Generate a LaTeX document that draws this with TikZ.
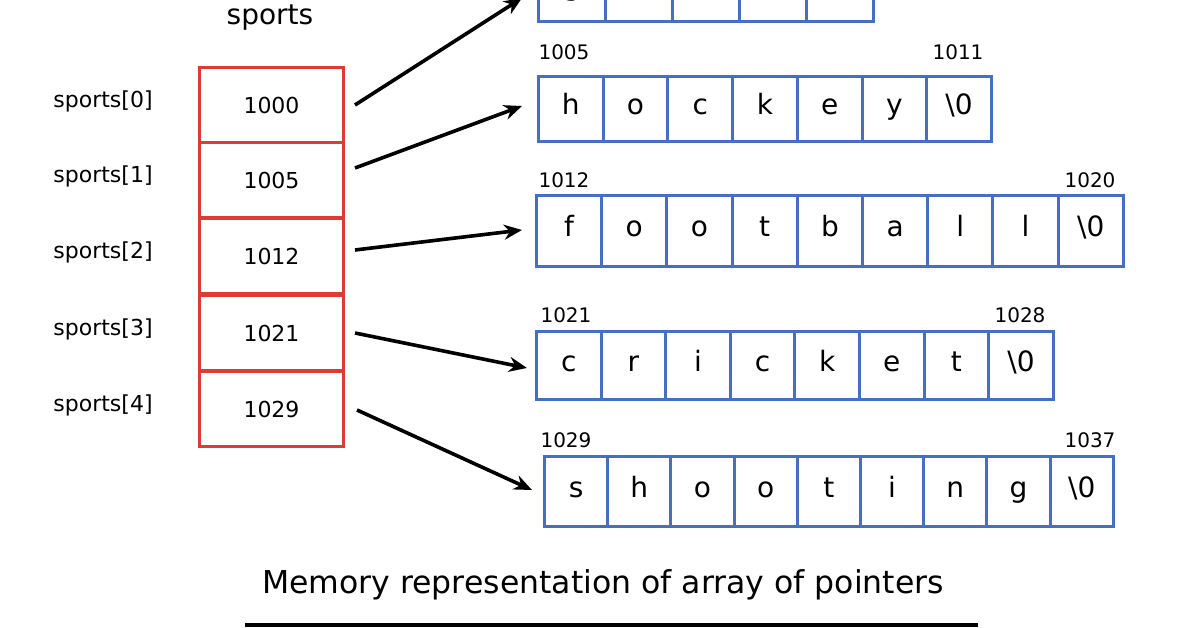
\documentclass[tikz,border=0pt]{standalone}
\usepackage{fontspec}
\setmainfont{DejaVu Sans}
\usetikzlibrary{arrows.meta}
\definecolor{ptrred}{RGB}{220,60,50}
\definecolor{cellblue}{RGB}{70,110,195}
\tikzset{
  ptrcell/.style={draw=ptrred,line width=3pt},
  chcell/.style={draw=cellblue,line width=3pt},
  addr/.style={font=\fontsize{20}{20}\selectfont},
  ptrarrow/.style={-{Stealth[length=18pt,width=15pt]},line width=3.6pt}
}
% #1 name, #2 left x, #3 top y, #4 cell width, #5 height, #6 letters
\newcommand{\strrow}[6]{%
  \foreach \ch [count=\i] in {#6} {
    \node[chcell,minimum width=#4,minimum height=#5,anchor=north west,inner sep=0pt,
      text height=16pt,text depth=4pt,font=\fontsize{28}{28}\selectfont] (#1\i) at ({#2+(\i-1)*#4},#3) {\ch};
  }%
}
\begin{document}
\begin{tikzpicture}[x=1pt,y=-1pt]
\useasboundingbox[fill=white] (0,0) rectangle (1196,628);
\begin{scope}
\clip (0,0) rectangle (1196,628);
% strings
\strrow{golf}{537}{-44}{67}{64}{g,o,l,f,\textbackslash0}
\strrow{hoc}{537}{75}{64.7}{65}{h,o,c,k,e,y,\textbackslash0}
\strrow{foo}{535}{194}{65.2}{71}{f,o,o,t,b,a,l,l,\textbackslash0}
\strrow{cri}{535}{330}{64.6}{68}{c,r,i,c,k,e,t,\textbackslash0}
\strrow{sho}{543}{455}{63.2}{70}{s,h,o,o,t,i,n,g,\textbackslash0}
\end{scope}
% addresses
\node[addr] (a1) at (564,52) {1005};
\node[addr] (a2) at (958,52) {1011};
\node[addr] (a3) at (564,180) {1012};
\node[addr] (a4) at (1090,180) {1020};
\node[addr] (a5) at (566,315) {1021};
\node[addr] (a6) at (1020,315) {1028};
\node[addr] (a7) at (566,440) {1029};
\node[addr] (a8) at (1090,440) {1037};
% pointer array
\node[font=\fontsize{28}{28}\selectfont] (title) at (270,18) {sports};
\foreach \val/\y [count=\i from 0] in {1000/66,1005/141,1012/217,1021/294,1029/370} {
  \node[ptrcell,minimum width=144,minimum height=75,anchor=north west,inner sep=0pt,
    font=\fontsize{22}{22}\selectfont] (p\i) at (198,\y) {\val};
  \node[font=\fontsize{22}{22}\selectfont] (l\i) at (103,{\y+35}) {sports[\i]};
}
% pointers
\coordinate (s0) at (355,105); \coordinate (t0) at (522,-2);
\coordinate (s1) at (355,168); \coordinate (t1) at (522,106);
\coordinate (s2) at (355,250); \coordinate (t2) at (522,230);
\coordinate (s3) at (355,333); \coordinate (t3) at (527,368);
\coordinate (s4) at (357,410); \coordinate (t4) at (532,490);
\foreach \i in {0,...,4} { \draw[ptrarrow] (s\i) -- (t\i); }
% caption
\node[font=\fontsize{31.5}{31.5}\selectfont] (cap) at (603,585) {Memory representation of array of pointers};
\coordinate (u1) at (245,625); \coordinate (u2) at (978,625);
\draw[line width=3.5pt] (u1) -- (u2);
\end{tikzpicture}
\end{document}
